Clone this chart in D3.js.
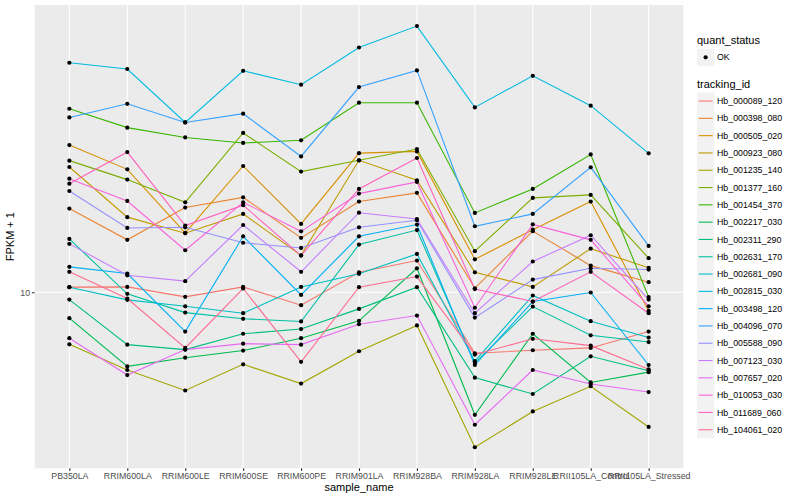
<!DOCTYPE html>
<html>
<head>
<meta charset="utf-8">
<script src="https://cdn.jsdelivr.net/npm/d3@7"></script>
<style>
  body { margin: 0; background: #fff; }
  text { font-family: "Liberation Sans", Arial, sans-serif; }
</style>
</head>
<body>
<svg id="chart" width="800" height="500"></svg>
<script>
// sample names on the x axis
const samples = ['PB350LA', 'RRIM600LA', 'RRIM600LE', 'RRIM600SE', 'RRIM600PE', 'RRIM901LA',
                 'RRIM928BA', 'RRIM928LA', 'RRIM928LE', 'RRII105LA_Control', 'RRII105LA_Stressed'];

const trackingIds = ['Hb_000089_120', 'Hb_000398_080', 'Hb_000505_020', 'Hb_000923_080', 'Hb_001235_140',
                     'Hb_001377_160', 'Hb_001454_370', 'Hb_002217_030', 'Hb_002311_290', 'Hb_002631_170',
                     'Hb_002681_090', 'Hb_002815_030', 'Hb_003498_120', 'Hb_004096_070', 'Hb_005588_090',
                     'Hb_007123_030', 'Hb_007657_020', 'Hb_010053_030', 'Hb_011689_060', 'Hb_104061_020'];

// FPKM + 1, one array per gene, in sample order
const hb_000089_120 = [10.19, 10.20, 9.83, 10.20, 9.53, 10.77, 11.25, 7.97, 8.06, 8.13, 8.64];
const hb_000398_080 = [13.65, 12.15, 13.70, 14.23, 12.24, 14.01, 14.47, 10.15, 12.55, 11.04, 10.38];
const hb_000505_020 = [17.28, 15.79, 12.47, 15.99, 12.89, 16.77, 16.88, 11.30, 12.62, 14.01, 9.33];
const hb_000923_080 = [15.93, 13.22, 12.45, 13.38, 11.47, 16.33, 15.16, 10.77, 10.20, 11.76, 10.95];
const hb_001235_140 = [8.24, 7.49, 6.94, 7.65, 7.12, 8.03, 8.84, 5.62, 6.42, 7.05, 6.06];
const hb_001377_160 = [16.31, 15.20, 13.97, 18.08, 15.66, 16.33, 17.03, 11.65, 14.20, 14.36, 11.35];
const hb_001454_370 = [19.78, 18.44, 17.78, 17.42, 17.59, 20.23, 20.23, 13.43, 14.68, 16.69, 9.82];
const hb_002217_030 = [9.08, 7.59, 7.84, 8.05, 8.43, 8.99, 10.93, 6.34, 8.57, 7.15, 7.43];
const hb_002311_290 = [9.73, 8.23, 8.08, 8.57, 8.72, 9.40, 10.19, 7.28, 6.85, 7.88, 7.47];
const hb_002631_170 = [12.19, 9.94, 9.27, 9.06, 8.97, 11.94, 12.60, 7.69, 9.48, 8.52, 8.31];
const hb_002681_090 = [10.19, 9.72, 9.49, 9.25, 10.20, 10.71, 11.53, 7.74, 9.88, 8.98, 8.45];
const hb_002815_030 = [23.47, 22.93, 18.80, 22.78, 21.63, 24.84, 26.90, 19.88, 22.36, 20.01, 16.76];
const hb_003498_120 = [10.99, 10.72, 8.64, 12.31, 9.90, 12.31, 12.86, 7.63, 9.66, 9.99, 7.63];
const hb_004096_070 = [19.15, 20.15, 18.80, 19.42, 16.57, 21.44, 22.81, 12.78, 13.38, 15.91, 11.88];
const hb_005588_090 = [14.57, 12.70, 12.73, 12.02, 11.79, 12.73, 13.07, 9.10, 10.48, 10.93, 10.88];
const hb_007123_030 = [11.97, 10.65, 10.42, 12.84, 10.79, 13.44, 13.13, 9.25, 11.21, 12.36, 9.73];
const hb_007657_020 = [8.43, 7.35, 8.08, 8.26, 8.23, 8.88, 9.17, 6.11, 7.49, 7.11, 6.90];
const hb_010053_030 = [15.25, 14.04, 11.69, 13.97, 12.54, 14.43, 15.07, 9.44, 12.87, 12.15, 9.49];
const hb_011689_060 = [14.97, 16.84, 12.81, 13.82, 11.46, 14.68, 16.47, 10.12, 9.66, 10.79, 9.25];
const hb_104061_020 = [10.79, 9.77, 8.13, 10.14, 7.72, 10.19, 10.60, 7.93, 8.41, 8.20, 7.51];

const fpkm = [hb_000089_120, hb_000398_080, hb_000505_020, hb_000923_080, hb_001235_140,
              hb_001377_160, hb_001454_370, hb_002217_030, hb_002311_290, hb_002631_170,
              hb_002681_090, hb_002815_030, hb_003498_120, hb_004096_070, hb_005588_090,
              hb_007123_030, hb_007657_020, hb_010053_030, hb_011689_060, hb_104061_020];

const yTicks = [10];

// ggplot default hue palette for 20 levels
const colors = ['#F8766D', '#EA8331', '#D89000', '#C09B00', '#A3A500', '#7CAE00', '#39B600', '#00BB4E',
                '#00BF7D', '#00C1A3', '#00BFC4', '#00BAE0', '#00B0F6', '#35A2FF', '#9590FF', '#C77CFF',
                '#E76BF3', '#FA62DB', '#FF62BC', '#FF6C91'];

var svg = d3.select('#chart');

var panel = {left: 34.6, right: 683.4, top: 5, bottom: 468.3};

var x = d3.scalePoint()
          .domain(samples)
          .range([panel.left, panel.right])
          .padding(0.6);

// log scale with ggplot's 5% expansion
var all = d3.merge(fpkm);
var lo = Math.log10(d3.min(all)), hi = Math.log10(d3.max(all));
var pad = (hi - lo) * 0.05;
var y = d3.scaleLog()
          .domain([Math.pow(10, lo - pad), Math.pow(10, hi + pad)])
          .range([panel.bottom, panel.top]);

svg.append('rect')
   .attr('x', panel.left).attr('y', panel.top)
   .attr('width', panel.right - panel.left)
   .attr('height', panel.bottom - panel.top)
   .attr('fill', '#EBEBEB');

// grid
svg.selectAll('.vgrid').data(samples).enter()
   .append('line')
   .attr('x1', d => x(d)).attr('x2', d => x(d))
   .attr('y1', panel.top).attr('y2', panel.bottom)
   .attr('stroke', '#fff').attr('stroke-width', 1.1);

svg.selectAll('.hgrid').data(yTicks).enter()
   .append('line')
   .attr('x1', panel.left).attr('x2', panel.right)
   .attr('y1', d => y(d)).attr('y2', d => y(d))
   .attr('stroke', '#fff').attr('stroke-width', 1.1);

// lines
var line = d3.line()
             .x((d, i) => x(samples[i]))
             .y(d => y(d));

svg.append('g').selectAll('path')
   .data(fpkm).enter()
   .append('path')
   .attr('d', line)
   .attr('fill', 'none')
   .attr('stroke', (d, i) => colors[i])
   .attr('stroke-width', 1.1);

// points
var pts = [];
fpkm.forEach((s, k) => s.forEach((v, i) => pts.push({s: samples[i], v: v})));
svg.append('g').selectAll('circle')
   .data(pts).enter()
   .append('circle')
   .attr('cx', d => x(d.s))
   .attr('cy', d => y(d.v))
   .attr('r', 2.1)
   .attr('fill', '#000');

// axes
var xAxis = svg.append('g')
   .attr('transform', 'translate(0,' + panel.bottom + ')')
   .call(d3.axisBottom(x).tickSize(2.7).tickPadding(1.5));
var yAxis = svg.append('g')
   .attr('transform', 'translate(' + panel.left + ',0)')
   .call(d3.axisLeft(y).tickValues(yTicks).tickFormat(d3.format('d')).tickSize(2.7).tickPadding(1.8));

[xAxis, yAxis].forEach(a => {
  a.select('.domain').remove();
  a.selectAll('line').attr('stroke', '#333').attr('stroke-width', 1.1);
  a.selectAll('text').attr('fill', '#4D4D4D').style('font-size', '8.8px')
   .style('font-family', '"Liberation Sans", Arial, sans-serif');
});

svg.append('text')
   .attr('x', (panel.left + panel.right) / 2).attr('y', 491)
   .attr('text-anchor', 'middle')
   .style('font-size', '11px')
   .text('sample_name');

svg.append('text')
   .attr('transform', 'translate(14,' + ((panel.top + panel.bottom) / 2) + ') rotate(-90)')
   .attr('text-anchor', 'middle')
   .style('font-size', '11px')
   .text('FPKM + 1');

// legend
var lg = svg.append('g').attr('transform', 'translate(697,0)');

lg.append('text').attr('x', 0).attr('y', 44).style('font-size', '11px').text('quant_status');
lg.append('rect').attr('x', 0).attr('y', 48.7).attr('width', 17.3).attr('height', 17.3).attr('fill', '#F2F2F2');
lg.append('circle').attr('cx', 8.65).attr('cy', 57.35).attr('r', 2.1).attr('fill', '#000');
lg.append('text').attr('x', 20).attr('y', 60.4).style('font-size', '8.8px').text('OK');

lg.append('text').attr('x', 0).attr('y', 88).style('font-size', '11px').text('tracking_id');

var keys = lg.selectAll('.key').data(trackingIds).enter()
   .append('g')
   .attr('transform', (d, i) => 'translate(0,' + (92.4 + i * 17.3) + ')');

keys.append('rect')
    .attr('width', 17.3).attr('height', 17.3)
    .attr('fill', '#F2F2F2');
keys.append('line')
    .attr('x1', 1.7).attr('x2', 15.6)
    .attr('y1', 8.65).attr('y2', 8.65)
    .attr('stroke', (d, i) => colors[i])
    .attr('stroke-width', 1.1);
keys.append('text')
    .attr('x', 20).attr('y', 11.8)
    .style('font-size', '8.8px')
    .text(d => d);
</script>
</body>
</html>
